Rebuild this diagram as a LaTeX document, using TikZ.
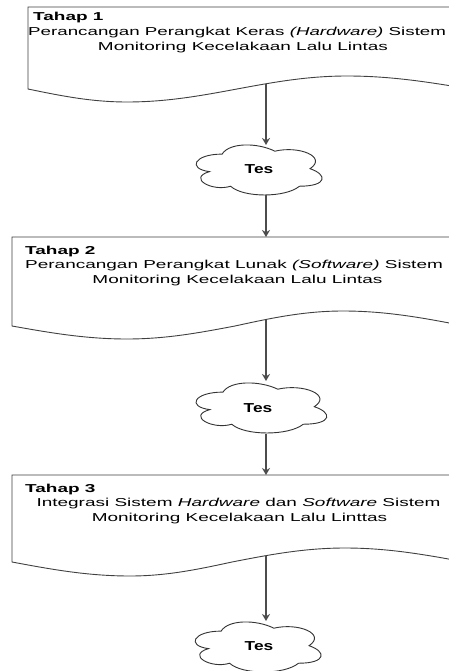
\documentclass[tikz,border=0pt]{standalone}
\usepackage{graphicx}
\usepackage{fontspec}
\setmainfont{Liberation Sans}
\usetikzlibrary{arrows.meta}
\newcommand{\wtxt}[2][1.65]{\scalebox{#1}[1]{#2}}
\newcommand{\drawcloudshape}[4]{%
 \draw[cloudline] ({#1+0.25*#3},{#2+0.25*#4})
  .. controls ({#1+0.05*#3},{#2+0.25*#4}) and ({#1},{#2+0.5*#4}) .. ({#1+0.16*#3},{#2+0.55*#4})
  .. controls ({#1},{#2+0.66*#4}) and ({#1+0.18*#3},{#2+0.9*#4}) .. ({#1+0.31*#3},{#2+0.8*#4})
  .. controls ({#1+0.4*#3},{#2+#4}) and ({#1+0.7*#3},{#2+#4}) .. ({#1+0.8*#3},{#2+0.8*#4})
  .. controls ({#1+#3},{#2+0.8*#4}) and ({#1+#3},{#2+0.6*#4}) .. ({#1+0.875*#3},{#2+0.5*#4})
  .. controls ({#1+#3},{#2+0.3*#4}) and ({#1+0.8*#3},{#2+0.1*#4}) .. ({#1+0.625*#3},{#2+0.2*#4})
  .. controls ({#1+0.5*#3},{#2+0.05*#4}) and ({#1+0.3*#3},{#2+0.05*#4}) .. ({#1+0.25*#3},{#2+0.25*#4}) -- cycle;}
\begin{document}
\begin{tikzpicture}[x=1pt,y=-1pt,
  docline/.style={draw=black!75, line width=0.9pt},
  cloudline/.style={draw=black!80, line width=0.9pt},
  conn/.style={draw=black!70, line width=1.2pt, -{Stealth[length=7pt,width=8pt]}},
  ttl/.style={anchor=base west, inner sep=0pt, font=\fontsize{11.5}{14}\selectfont\bfseries},
  body/.style={inner sep=0pt, font=\fontsize{11.5}{14}\selectfont},
  tes/.style={inner sep=0pt, font=\fontsize{13}{15}\selectfont\bfseries}]
\clip (0,0) rectangle (449,671);
\fill[white] (0,0) rectangle (449,671);

% documents
\draw[docline] (28,89) sin (127,102) cos (237,89) sin (347,76) cos (470,89)
  -- (470,7) -- (28,7) -- cycle;
\draw[docline] (12,326) sin (127,339) cos (235,326) sin (343,311) cos (465,326)
  -- (465,237) -- (12,237) -- cycle;
\draw[docline] (12,562) sin (130,576) cos (232,562) sin (345,548) cos (465,562)
  -- (465,475) -- (12,475) -- cycle;

% texts of documents
\node[ttl] (t1) at (33,20.5) {\wtxt{Tahap 1}};
\node[body, anchor=base west] (t1a) at (28,35.5) {\wtxt[1.63]{Perancangan Perangkat Keras \textit{(Hardware)} Sistem}};
\node[body, anchor=base] (t1b) at (243,50.5) {\wtxt{Monitoring Kecelakaan Lalu Lintas}};

\node[ttl] (t2) at (25,254.5) {\wtxt{Tahap 2}};
\node[body, anchor=base west] (t2a) at (25,268.5) {\wtxt{Perancangan Perangkat Lunak \textit{(Software)} Sistem}};
\node[body, anchor=base] (t2b) at (237.5,283) {\wtxt{Monitoring Kecelakaan Lalu Lintas}};

\node[ttl] (t3) at (25,492.5) {\wtxt{Tahap 3}};
\node[body, anchor=base] (t3a) at (238.5,506.5) {\wtxt{Integrasi Sistem \textit{Hardware} dan \textit{Software} Sistem}};
\node[body, anchor=base] (t3b) at (239.5,521) {\wtxt{Monitoring Kecelakaan Lalu Linttas}};

% clouds
\drawcloudshape{187}{139.5}{140.6}{58.4}
\drawcloudshape{186.5}{377.5}{146}{58.4}
\drawcloudshape{186}{616.5}{140.6}{58.4}
\node[tes] (c1) at (259,169) {\wtxt[1.33]{Tes}};
\node[tes] (c2) at (258,408) {\wtxt[1.33]{Tes}};
\node[tes] (c3) at (259,646.5) {\wtxt[1.33]{Tes}};

% connector end points
\coordinate (d1out) at (266,84);
\coordinate (c1in) at (266,145);
\coordinate (c1out) at (266,195);
\coordinate (d2in) at (266,237);
\coordinate (d2out) at (266,320);
\coordinate (c2in) at (266,381);
\coordinate (c2out) at (266,434);
\coordinate (d3in) at (266,475);
\coordinate (d3out) at (266,556);
\coordinate (c3in) at (266,621);

\draw[conn] (d1out) -- (c1in);
\draw[conn] (c1out) -- (d2in);
\draw[conn] (d2out) -- (c2in);
\draw[conn] (c2out) -- (d3in);
\draw[conn] (d3out) -- (c3in);
\end{tikzpicture}
\end{document}
